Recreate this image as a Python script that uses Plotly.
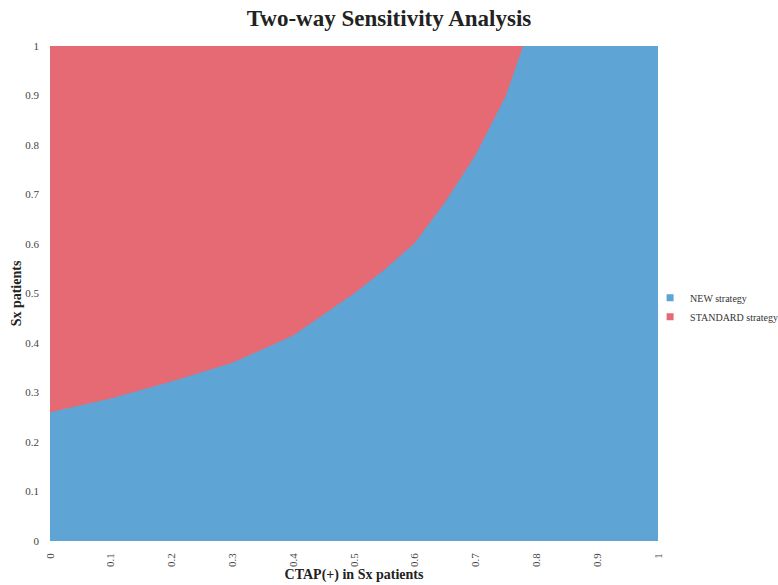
import plotly.graph_objects as go

ctap = [0.0, 0.1, 0.2, 0.3, 0.4, 0.5, 0.55, 0.6, 0.65, 0.7, 0.75, 0.778, 0.8, 0.9, 1.0]
threshold = [0.26, 0.288, 0.322, 0.36, 0.415, 0.5, 0.548, 0.602, 0.685, 0.78, 0.9, 1.0, 1.0, 1.0, 1.0]
top_x = [0.0, 1.0]
top_y = [1.0, 1.0]
tick_vals = [0, 0.1, 0.2, 0.3, 0.4, 0.5, 0.6, 0.7, 0.8, 0.9, 1]
tick_text = ["0", "0.1", "0.2", "0.3", "0.4", "0.5", "0.6", "0.7", "0.8", "0.9", "1"]

RED = "rgb(229,106,115)"
BLUE = "rgb(94,165,214)"
SERIF = "Liberation Serif, Times New Roman, serif"

W, H = 778, 585

fig = go.Figure()
fig.add_trace(go.Scatter(x=top_x, y=top_y, mode="lines", line=dict(width=0, color=RED),
                         fill="tozeroy", fillcolor=RED, name="STANDARD strategy", showlegend=False))
fig.add_trace(go.Scatter(x=ctap, y=threshold, mode="lines", line=dict(width=0, color=BLUE),
                         fill="tozeroy", fillcolor=BLUE, name="NEW strategy", showlegend=False))
# legend entries with square swatches
fig.add_trace(go.Scatter(x=[None], y=[None], mode="markers", name="NEW strategy",
                         marker=dict(symbol="square", size=7, color=BLUE)))
fig.add_trace(go.Scatter(x=[None], y=[None], mode="markers", name="STANDARD strategy",
                         marker=dict(symbol="square", size=7, color=RED)))

fig.update_layout(
    width=W, height=H,
    margin=dict(l=50, r=120, t=46, b=44, autoexpand=False),
    paper_bgcolor="white", plot_bgcolor="white",
    title=dict(text="<b>Two-way Sensitivity Analysis</b>", x=0.5, xanchor="center",
               y=1 - 18 / H, yanchor="middle",
               font=dict(family=SERIF, size=23, color="#222")),
    showlegend=True,
    legend=dict(traceorder="normal", x=0.987, xanchor="left", y=0.472, yanchor="middle",
                bgcolor="rgba(0,0,0,0)",
                font=dict(family=SERIF, size=10, color="#333"), itemwidth=30, tracegroupgap=0),
    xaxis=dict(range=[0, 1], tickvals=tick_vals, ticktext=tick_text, tickangle=-90,
               showgrid=False, zeroline=False, showline=False, ticks="", ticklabelstandoff=9,
               tickfont=dict(family=SERIF, size=11, color="#444"),
               title=dict(text="<b>CTAP(+) in Sx patients</b>", font=dict(family=SERIF, size=14, color="#222"), standoff=0)),
    yaxis=dict(range=[0, 1], tickvals=tick_vals, ticktext=tick_text,
               showgrid=False, zeroline=False, showline=False, ticks="", ticklabelstandoff=10,
               tickfont=dict(family=SERIF, size=11, color="#444"),
               title=dict(text="<b>Sx patients</b>", font=dict(family=SERIF, size=14, color="#222"), standoff=0)),
)

fig.write_html("out.html", config={"displayModeBar": False},
               post_script="document.body.style.margin='0';document.body.style.overflow='hidden';")
